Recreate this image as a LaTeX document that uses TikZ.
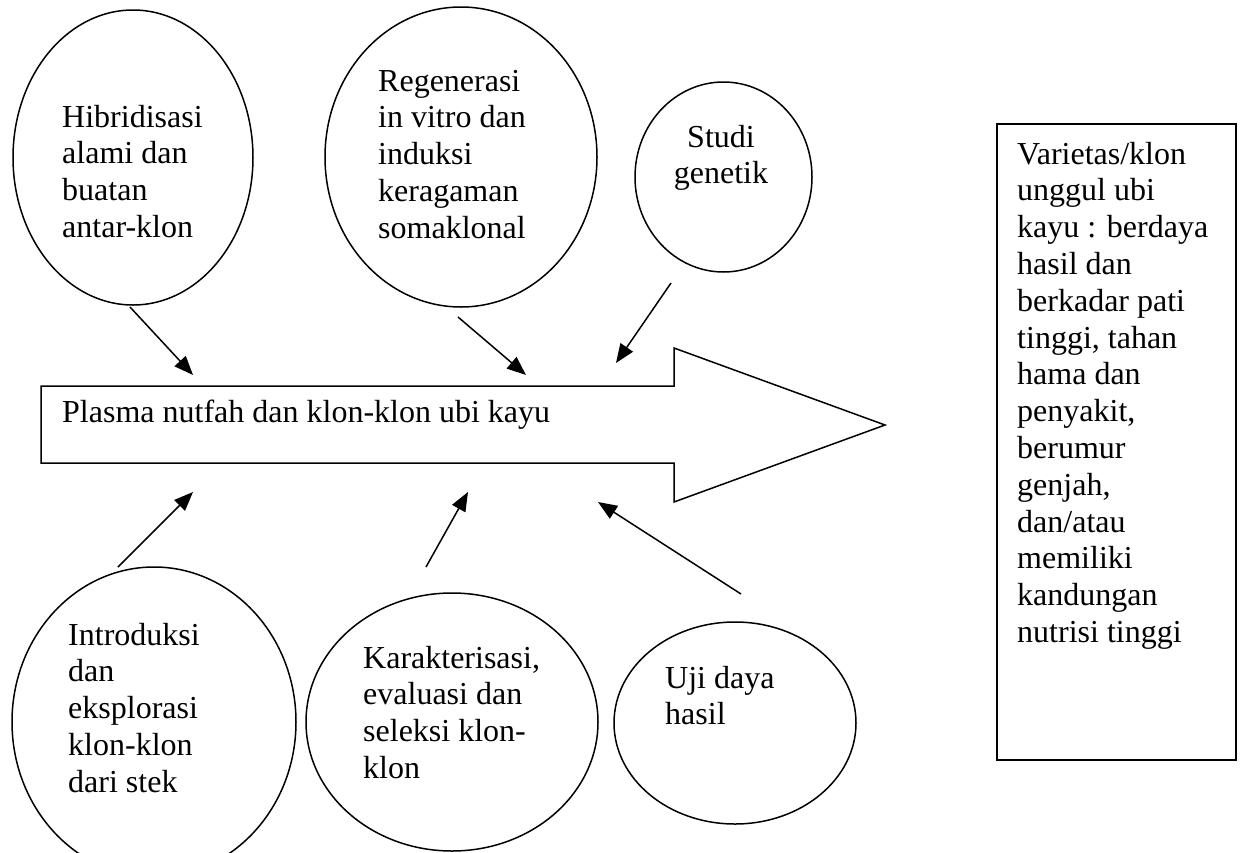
\documentclass[tikz,border=0pt]{standalone}
\usepackage{fontspec}
\setmainfont{Liberation Serif}
\usetikzlibrary{arrows.meta,shapes.geometric}

\begin{document}
\begin{tikzpicture}[x=1pt, y=-1pt,
    bubble/.style={draw, ellipse, inner sep=0pt, line width=1.5pt},
    txt/.style={anchor=base west, align=left, inner sep=0pt, font=\fontsize{32}{36.8}\selectfont},
    feed/.style={line width=1.5pt, -{Triangle[length=19pt, width=15pt]}}]
    \useasboundingbox (0,0) rectangle (1243,852);
    \node[bubble, minimum width=240pt, minimum height=295pt] (hibrid) at (133,157.5) {};
    \node[bubble, minimum width=272pt, minimum height=300pt] (regen) at (461,157) {};
    \node[bubble, minimum width=177pt, minimum height=190pt] (studi) at (723.5,177) {};
    \node[bubble, minimum width=284pt, minimum height=310pt] (intro) at (154,722) {};
    \node[bubble, minimum width=292pt, minimum height=258pt] (karak) at (452,722) {};
    \node[bubble, minimum width=242pt, minimum height=202pt] (uji) at (735,723) {};
    \draw[line width=1.5pt] (41,386) -- (674,386) -- (674,348) -- (885,425) -- (674,502) -- (674,463) -- (41,463) -- cycle;
    \node[draw, line width=1.5pt, minimum width=239pt, minimum height=636pt] (unggul) at (1116.5,442) {};
    \node[txt] (hibrid-t) at (62,237.4) {Hibridisasi\\alami dan\\buatan\\antar-klon};
    \node[txt] (regen-t) at (378,238.2) {Regenerasi\\in vitro dan\\induksi\\keragaman\\somaklonal};
    \node[txt, anchor=base, align=center] (studi-t) at (721,183.8) {Studi\\genetik};
    \node[txt] (plasma-t) at (62,422) {Plasma nutfah dan klon-klon ubi kayu};
    \node[txt] (intro-t) at (68,792.2) {Introduksi\\dan\\eksplorasi\\klon-klon\\dari stek};
    \node[txt] (karak-t) at (363,778.4) {Karakterisasi,\\evaluasi dan\\seleksi klon-\\klon};
    \node[txt] (uji-t) at (665,724.8) {Uji daya\\hasil};
    \node[txt] (unggul-t) at (1017,642.4) {Varietas/klon\\unggul ubi\\kayu : berdaya\\hasil dan\\berkadar pati\\tinggi, tahan\\hama dan\\penyakit,\\berumur\\genjah,\\dan/atau\\memiliki\\kandungan\\nutrisi tinggi};
    \coordinate (hibrid-out) at (130,307);
    \coordinate (regen-out) at (458,317);
    \coordinate (studi-out) at (671,283);
    \coordinate (intro-out) at (118,567);
    \coordinate (karak-out) at (426,567);
    \coordinate (uji-out) at (741,594);
    \coordinate (plasma-in1) at (193,375);
    \coordinate (plasma-in2) at (526,375);
    \coordinate (plasma-in3) at (616,363);
    \coordinate (plasma-in4) at (193,492);
    \coordinate (plasma-in5) at (468,492);
    \coordinate (plasma-in6) at (598,502);
    \draw[feed] (hibrid-out) -- (plasma-in1);
    \draw[feed] (regen-out) -- (plasma-in2);
    \draw[feed] (studi-out) -- (plasma-in3);
    \draw[feed] (intro-out) -- (plasma-in4);
    \draw[feed] (karak-out) -- (plasma-in5);
    \draw[feed] (uji-out) -- (plasma-in6);
\end{tikzpicture}
\end{document}
